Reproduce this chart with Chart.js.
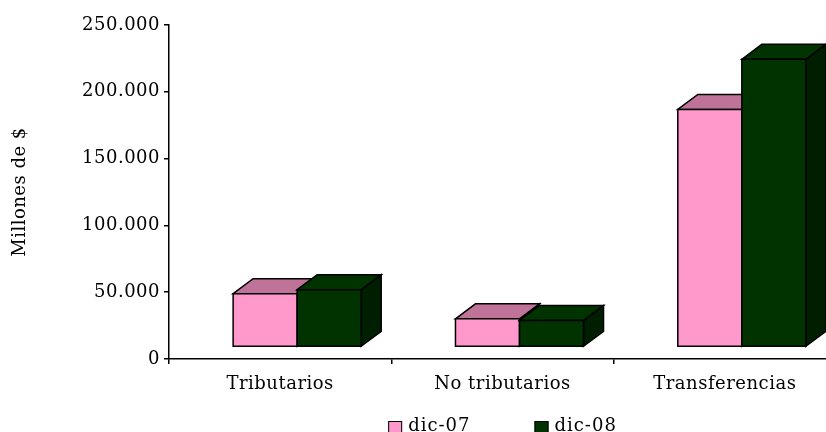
<!DOCTYPE html>
<html>
<head>
<meta charset="utf-8">
<script src="https://cdn.jsdelivr.net/npm/chart.js@4.4.0/dist/chart.umd.min.js"></script>
<style>
  html, body { margin: 0; padding: 0; background: #fff; overflow: hidden; }
  #wrap { position: relative; width: 840px; height: 432px; }
</style>
</head>
<body>
<div id="wrap"><canvas id="chart"></canvas></div>
<script>
const categories = ['Tributarios', 'No tributarios', 'Transferencias'];
const seriesNames = ['dic-07', 'dic-08'];
const dic07 = [48900, 30100, 186800];
const dic08 = [51900, 28900, 224300];
const yMax = 250000;
const yStep = 50000;

const frontColors = ['#ff99cc', '#003300'];
const topColors = ['#c07399', '#003300'];
const sideColors = ['#b36b8f', '#001f00'];

const FONT = "'DejaVu Serif', serif";
const DEPTH_X = 20, DEPTH_Y = 15;  // depth of the boxes
const SHIFT_X = 17, LIFT = 12;     // front plane sits a bit off the axes

function poly(ctx, pts, fill) {
  ctx.beginPath();
  ctx.moveTo(pts[0][0], pts[0][1]);
  for (let k = 1; k < pts.length; k++) ctx.lineTo(pts[k][0], pts[k][1]);
  ctx.closePath();
  ctx.fillStyle = fill;
  ctx.fill();
  ctx.stroke();
}

// the original font is a bit wider than DejaVu Serif
const spacing = {
  id: 'spacing',
  beforeUpdate(chart) { chart.ctx.letterSpacing = '0.5px'; },
  beforeDraw(chart) { chart.ctx.letterSpacing = '0.5px'; }
};

const boxes3d = {
  id: 'boxes3d',
  beforeDatasetDraw() { return false; },
  afterDatasetsDraw(chart) {
    const ctx = chart.ctx;
    const metas = chart.data.datasets.map((d, i) => chart.getDatasetMeta(i));
    ctx.save();
    ctx.lineWidth = 1.5;
    ctx.strokeStyle = '#000';
    categories.forEach((c, j) => {
      metas.forEach((meta, i) => {
        const bar = meta.data[j];
        const l = bar.x - bar.width / 2 + SHIFT_X;
        const r = bar.x + bar.width / 2 + SHIFT_X;
        const t = bar.y;
        const b = bar.base - LIFT;
        poly(ctx, [[r, b], [r + DEPTH_X, b - DEPTH_Y], [r + DEPTH_X, t - DEPTH_Y], [r, t]], sideColors[i]);
        poly(ctx, [[l, t], [l + DEPTH_X, t - DEPTH_Y], [r + DEPTH_X, t - DEPTH_Y], [r, t]], topColors[i]);
        poly(ctx, [[l, b], [l, t], [r, t], [r, b]], frontColors[i]);
      });
    });
    ctx.restore();
  }
};

const legendBelow = {
  id: 'legendBelow',
  afterDraw(chart) {
    const ctx = chart.ctx;
    const area = chart.chartArea;
    ctx.save();
    ctx.font = '18px ' + FONT;
    ctx.letterSpacing = '1px';
    const box = 14, gap = 6, between = 64;
    const widths = seriesNames.map(n => box + gap + ctx.measureText(n).width);
    const total = widths.reduce((a, w) => a + w, 0) + between * (widths.length - 1);
    let x = (area.left + area.right) / 2 - total / 2;
    const y = 431;
    seriesNames.forEach((name, i) => {
      ctx.fillStyle = frontColors[i];
      ctx.fillRect(x, y - 10, box, box);
      ctx.strokeStyle = '#000';
      ctx.lineWidth = 1;
      ctx.strokeRect(x + 0.5, y - 9.5, box - 1, box - 1);
      ctx.fillStyle = '#000';
      ctx.textBaseline = 'alphabetic';
      ctx.textAlign = 'left';
      ctx.fillText(name, x + box + gap, y);
      x += widths[i] + between;
    });
    ctx.restore();
  }
};

new Chart(document.getElementById('chart'), {
  type: 'bar',
  data: {
    labels: categories,
    datasets: [
      { label: seriesNames[0], data: dic07, backgroundColor: frontColors[0], borderColor: '#000', borderWidth: 1 },
      { label: seriesNames[1], data: dic08, backgroundColor: frontColors[1], borderColor: '#000', borderWidth: 1 }
    ]
  },
  options: {
    responsive: true,
    maintainAspectRatio: false,
    animation: false,
    devicePixelRatio: 1,
    datasets: { bar: { categoryPercentage: 0.576, barPercentage: 1 } },
    layout: { padding: { top: 25, right: 4, bottom: 33, left: 0 } },
    plugins: {
      legend: { display: false },
      tooltip: { enabled: false }
    },
    scales: {
      x: {
        grid: { drawOnChartArea: false, tickLength: 5, color: '#000', lineWidth: 1.5 },
        border: { color: '#000', width: 1.5 },
        ticks: { color: '#000', font: { family: FONT, size: 18 }, padding: 10, maxRotation: 0 },
        afterFit(scale) { scale.height = 40; }
      },
      y: {
        min: 0,
        max: yMax,
        ticks: {
          stepSize: yStep,
          color: '#000',
          font: { family: FONT, size: 18 },
          padding: 4,
          callback: v => String(v).replace(/\B(?=(\d{3})+(?!\d))/g, '.')
        },
        grid: { drawOnChartArea: false, tickLength: 5, color: '#000', lineWidth: 1.5 },
        border: { color: '#000', width: 1.5 },
        title: {
          display: true,
          text: 'Millones de $',
          color: '#000',
          font: { family: FONT, size: 18 },
          padding: { top: 10, bottom: 0 }
        },
        afterFit(scale) { scale.width = 169; }
      }
    }
  },
  plugins: [spacing, boxes3d, legendBelow]
});
</script>
</body>
</html>
